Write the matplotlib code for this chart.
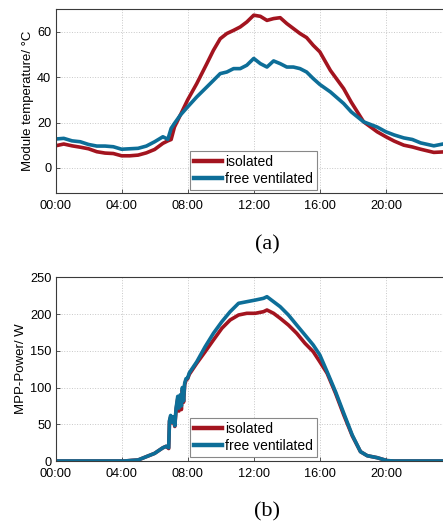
import matplotlib
matplotlib.use("Agg")
import matplotlib.pyplot as plt
from matplotlib.ticker import FixedLocator

plt.rcParams['font.family'] = ['Liberation Sans', 'DejaVu Sans']

# ---- data: module temperature (°C) ----
temp_hours = [0, 0.5, 1, 1.5, 2, 2.5, 3, 3.5, 4, 4.5, 5, 5.5, 6, 6.5, 6.8, 7.0, 7.2,
              7.55, 8, 8.55, 9.16, 9.56, 9.97, 10.37, 10.78, 11.18, 11.58, 12, 12.4,
              12.8, 13.2, 13.6, 14, 14.4, 14.8, 15.2, 15.6, 16, 16.64, 17.44, 17.9,
              18.65, 19.47, 20, 20.5, 21.08, 21.6, 22.1, 22.9, 23.45, 24]
temp_isolated = [9.7, 10.5, 9.7, 9.1, 8.4, 7.1, 6.5, 6.3, 5.3, 5.3, 5.6, 6.6, 8.1, 10.8,
                 11.9, 12.5, 18.0, 23.2, 30.0, 37.2, 46.0, 51.9, 57.0, 59.3, 60.7, 62.2,
                 64.4, 67.4, 66.9, 65.1, 65.9, 66.3, 63.7, 61.5, 59.3, 57.5, 54.1, 51.2,
                 43.0, 35.0, 29.0, 20.3, 15.9, 13.7, 11.8, 10.0, 9.2, 8.2, 6.8, 7.0, 7.0]
temp_ventilated = [12.7, 13.0, 11.9, 11.5, 10.3, 9.6, 9.6, 9.3, 8.2, 8.4, 8.6, 9.6, 11.5,
                   13.7, 12.6, 17.4, 19.6, 23.2, 26.9, 31.3, 35.7, 38.6, 41.6, 42.3, 43.8,
                   43.8, 45.3, 48.3, 46.0, 44.5, 47.2, 46.0, 44.5, 44.5, 43.8, 42.3, 39.4,
                   36.8, 33.5, 28.4, 24.7, 20.3, 18.0, 15.9, 14.5, 13.2, 12.5, 11.0, 9.7,
                   10.5, 10.5]

# ---- data: MPP power (W) ----
power_hours = [0, 4.2, 4.6, 5, 5.5, 6, 6.3, 6.5, 6.7, 6.85, 6.9, 6.97, 7.04, 7.14, 7.22,
               7.3, 7.4, 7.47, 7.55, 7.62, 7.68, 7.75, 7.82, 7.9, 8.0, 8.1, 8.55, 9.06,
               9.56, 10.07, 10.57, 11.08, 11.58, 12.09, 12.59, 12.8, 13.2, 13.6, 14.1,
               14.6, 15.1, 15.6, 16, 16.44, 16.95, 17.45, 17.96, 18.46, 18.87, 19.47,
               20.07, 20.5, 24]
power_isolated = [0, 0, 0.8, 1.4, 5.9, 10.4, 15, 18, 20, 17, 54, 60, 52, 58, 47, 70, 85,
                  68, 88, 70, 97, 80, 104, 110, 112, 118, 133, 148.8, 164.7, 180.6,
                  191.9, 198.7, 201, 201, 203.2, 205.5, 201, 194.2, 185, 173.8, 160.2,
                  148.8, 135, 119.4, 92.2, 62.6, 34.4, 12.7, 7.2, 4.5, 0.5, 0, 0]
power_ventilated = [0, 0, 0.8, 1.4, 5.9, 10.4, 15, 18, 20, 18, 55, 62, 53, 60, 48, 72, 88,
                    72, 90, 75, 100, 82, 106, 112, 113, 120, 135, 155.6, 173.8, 189.6,
                    203.2, 214.6, 216.8, 219, 221.4, 223.6, 216.8, 210, 198.7, 185, 171.5,
                    157.9, 144.3, 121.5, 94.3, 64.9, 35.4, 12.7, 7.2, 4.5, 0.5, 0, 0]

series_labels = ["isolated", "free ventilated"]
tick_hours = [0, 4, 8, 12, 16, 20]
tick_labels = ["00:00", "04:00", "08:00", "12:00", "16:00", "20:00"]

RED = "#A3141F"
BLUE = "#0D6E98"

W, H = 443, 526
fig = plt.figure(figsize=(W / 100, H / 100), dpi=100)

def px_axes(left, top, right, bottom):
    return fig.add_axes([left / W, 1 - bottom / H, (right - left) / W, (bottom - top) / H])

def style(ax):
    ax.set_xlim(0, 24)
    ax.xaxis.set_major_locator(FixedLocator(tick_hours))
    ax.set_xticklabels(tick_labels)
    ax.grid(True, linestyle=':', color='#c8c8c8', linewidth=0.7)
    ax.set_axisbelow(True)
    for s in ax.spines.values():
        s.set_color('#3a3a3a')
        s.set_linewidth(0.8)
    ax.tick_params(direction='in', length=3, width=0.6, labelsize=9.2, color='#3a3a3a', pad=3)
    ax.tick_params(axis='x', pad=5)

def make_legend(ax, y0):
    leg = ax.legend(loc='lower left', bbox_to_anchor=(0.339, y0), fontsize=10,
                    fancybox=False, framealpha=1, edgecolor='#888888', handlelength=2.0,
                    handletextpad=0.25, borderpad=0.3, labelspacing=0.2, borderaxespad=0)
    leg.get_frame().set_linewidth(0.8)
    for l in leg.get_lines():
        l.set_linewidth(3.2)

ax1 = px_axes(55.5, 9.3, 452, 192.7)
ax1.plot(temp_hours, temp_isolated, color=RED, lw=2.6, label=series_labels[0])
ax1.plot(temp_hours, temp_ventilated, color=BLUE, lw=2.6, label=series_labels[1])
ax1.set_ylim(-11, 70)
ax1.set_yticks([0, 20, 40, 60])
ax1.set_ylabel("Module temperature/ °C", fontsize=9.5, labelpad=2)
style(ax1)
make_legend(ax1, 0.015)

ax2 = px_axes(55.5, 277.3, 452, 461)
ax2.plot(power_hours, power_isolated, color=RED, lw=2.6, label=series_labels[0])
ax2.plot(power_hours, power_ventilated, color=BLUE, lw=2.6, label=series_labels[1])
ax2.set_ylim(0, 250)
ax2.set_yticks([0, 50, 100, 150, 200, 250])
ax2.set_ylabel("MPP-Power/ W", fontsize=9.5, labelpad=2)
style(ax2)
make_legend(ax2, 0.023)

fig.text(267 / W, 1 - 245 / H, "(a)", family=['Liberation Serif', 'DejaVu Serif'],
         fontsize=16, ha='center', va='center')
fig.text(267 / W, 1 - 512 / H, "(b)", family=['Liberation Serif', 'DejaVu Serif'],
         fontsize=16, ha='center', va='center')

fig.savefig("out.png", dpi=100)
